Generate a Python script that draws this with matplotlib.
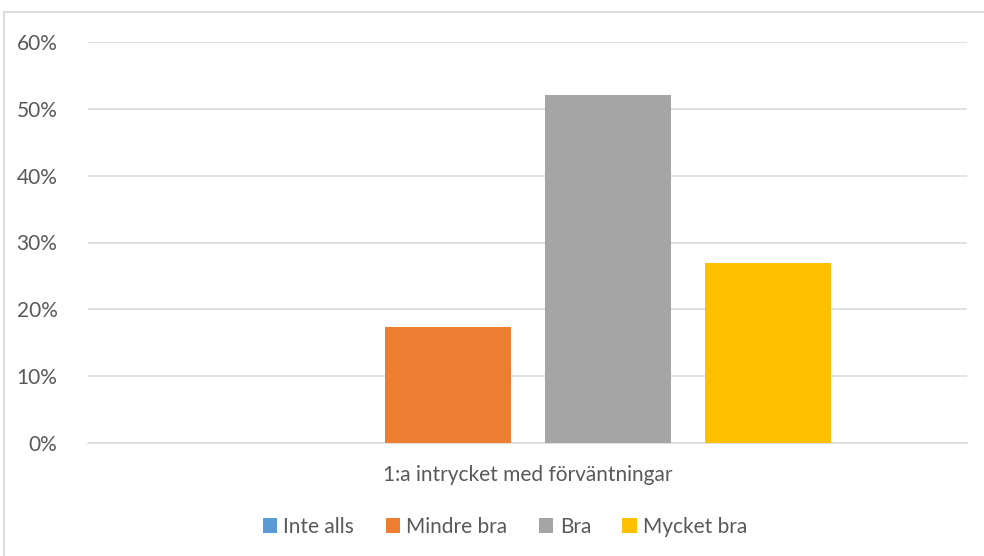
import matplotlib.pyplot as plt
from matplotlib.patches import Rectangle
from matplotlib.ticker import PercentFormatter

plt.rcParams['font.family'] = ['Lato', 'DejaVu Sans']

category = "1:a intrycket med förväntningar"
series = ["Inte alls", "Mindre bra", "Bra", "Mycket bra"]
values = [0.0, 17.4, 52.0, 26.9]
colors_ = ["#5b9bd5", "#ed7d31", "#a5a5a5", "#ffc000"]
yticks = [0, 10, 20, 30, 40, 50, 60]

txt = "#595959"
grid = "#d9d9d9"

fig = plt.figure(figsize=(9.84, 5.56), dpi=100)
ax = fig.add_axes([88/984, 113/556, 879/984, 401/556])

# chart border (right and bottom edges fall outside the picture)
fig.patches.append(Rectangle((3.5/984, -0.1), 1.0, 1.1 - 11.5/556, transform=fig.transFigure,
                             fill=False, edgecolor=grid, lw=1.3))

step = 160/879
width = 126/879
for i, (name, v, c) in enumerate(zip(series, values, colors_)):
    ax.bar((i - 1.5) * step, v, width=width, color=c, label=name, zorder=3)

ax.set_xlim(-0.5, 0.5)
ax.set_ylim(0, 60)
ax.set_yticks(yticks)
ax.yaxis.set_major_formatter(PercentFormatter(decimals=0))
ax.grid(axis='y', color=grid, lw=1.1, zorder=0)
ax.set_xticks([0])
ax.set_xticklabels([category])
ax.tick_params(axis='both', length=0, colors=txt, labelsize=15)
ax.tick_params(axis='y', pad=22)
ax.tick_params(axis='x', pad=16)
for s in ['top', 'right', 'left']:
    ax.spines[s].set_visible(False)
ax.spines['bottom'].set_color(grid)
ax.spines['bottom'].set_linewidth(1.1)

leg = fig.legend(loc='center', bbox_to_anchor=(505/984, 1 - 527/556), ncol=4, frameon=False,
                 fontsize=15, handlelength=0.7, handleheight=0.7, handletextpad=0.3,
                 columnspacing=1.5)
for t in leg.get_texts():
    t.set_color(txt)

fig.savefig("out.png", dpi=100)
